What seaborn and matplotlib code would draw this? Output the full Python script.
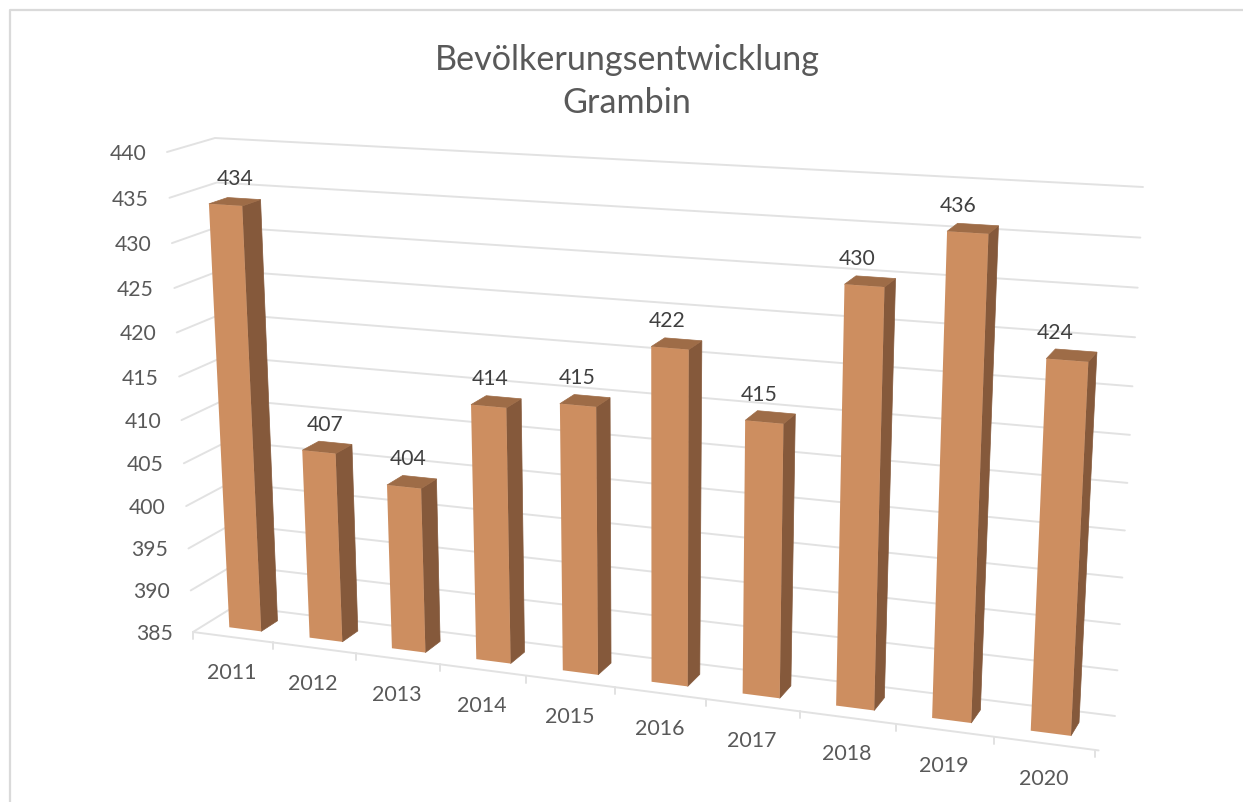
import numpy as np
import pandas as pd
import matplotlib
matplotlib.use("Agg")
import matplotlib.pyplot as plt
import seaborn as sns
from matplotlib.lines import Line2D
from matplotlib.patches import Polygon
from matplotlib.transforms import Affine2D, Transform

# ---------- DATA ----------
years = ["2011", "2012", "2013", "2014", "2015", "2016", "2017", "2018", "2019", "2020"]
population = [434, 407, 404, 414, 415, 422, 415, 430, 436, 424]
value_ticks = [385, 390, 395, 400, 405, 410, 415, 420, 425, 430, 435, 440]
title_lines = ["Bevölkerungsentwicklung", "Grambin"]

# ---------- STYLE ----------
W, H = 1243, 803
FRONT_COLOR = "#CD8E60"
SIDE_COLOR = "#85593B"
TOP_COLOR = "#9E6C47"
GRID_COLOR = "#E2E2E2"
TEXT_COLOR = "#595959"
LABEL_COLOR = "#404040"

sns.set_theme(style="white")
plt.rcParams["font.family"] = ["Lato", "DejaVu Sans"]

# ---------- PERSPECTIVE OF THE 3D BOX ----------
# corners in picture pixels: (x left/right, value low/high)
FRONT_CORNERS = [(193, 633), (1095.5, 751), (167, 153), (1122, 208)]
BACK_CORNERS = [(235, 607), (1115, 717), (215, 139), (1143, 188)]
BAR_Z0, BAR_Z1 = 0.3, 0.7
LABEL_DRIFT = 17  # data labels sit further left of the bar towards the right side


def homography(corners):
    src = [(0, 0), (1, 0), (0, 1), (1, 1)]
    rows, rhs = [], []
    for (u, v), (px, py) in zip(src, corners):
        rows.append([u, v, 1, 0, 0, 0, -u * px, -v * px])
        rows.append([0, 0, 0, u, v, 1, -u * py, -v * py])
        rhs += [px, py]
    return np.append(np.linalg.solve(np.array(rows, float), np.array(rhs, float)), 1).reshape(3, 3)


H_FRONT = homography(FRONT_CORNERS)
H_BACK = homography(BACK_CORNERS)


def project(x, y, z):
    x, y = np.asarray(x, float), np.asarray(y, float)
    u = (x + 0.5) / len(years)
    v = (y - value_ticks[0]) / (value_ticks[-1] - value_ticks[0])
    pts = np.stack([u, v, np.ones_like(u)], axis=-1)
    front = pts @ H_FRONT.T
    back = pts @ H_BACK.T
    front = front[..., :2] / front[..., 2:]
    back = back[..., :2] / back[..., 2:]
    return front * (1 - z) + back * z


class Depth(Transform):
    input_dims = 2
    output_dims = 2

    def __init__(self, z):
        super().__init__()
        self.z = z

    def transform_non_affine(self, values):
        values = np.asarray(values, float)
        return project(values[:, 0], values[:, 1], self.z)


# ---------- FIGURE ----------
fig = plt.figure(figsize=(W / 100, H / 100), dpi=100, facecolor="white")
ax = fig.add_axes([0, 0, 1, 1])
to_fig = Affine2D().scale(1 / W, -1 / H).translate(0, 1) + fig.transFigure

# outer chart frame, only top and left are inside the picture
fig.add_artist(Line2D([10, 10, W], [H, 11, 11], transform=to_fig, color="#DADADA", lw=1.6))

# ---------- BARS ----------
df = pd.DataFrame({"year": years, "population": population})
sns.barplot(data=df, x="year", y="population", color=FRONT_COLOR, saturation=1,
            width=0.4, linewidth=0, ax=ax)
ax.set_axis_off()

base = value_ticks[0]
for i, bar in enumerate(ax.patches):
    x0, x1 = bar.get_x(), bar.get_x() + bar.get_width()
    top = bar.get_height()
    bar.set_y(base)
    bar.set_height(top - base)
    bar.set_transform(Depth(BAR_Z0) + to_fig)
    bar.set_clip_on(False)
    bar.set_zorder(3)

    side = np.vstack([project([x1, x1], [base, top], BAR_Z0),
                      project([x1, x1], [top, base], BAR_Z1)])
    roof = np.vstack([project([x0, x1], [top, top], BAR_Z0),
                      project([x1, x0], [top, top], BAR_Z1)])
    ax.add_patch(Polygon(side, closed=True, facecolor=SIDE_COLOR, edgecolor=SIDE_COLOR,
                         linewidth=0.5, transform=to_fig, clip_on=False, zorder=2))
    ax.add_patch(Polygon(roof, closed=True, facecolor=TOP_COLOR, edgecolor=TOP_COLOR,
                         linewidth=0.5, transform=to_fig, clip_on=False, zorder=2))

    # data label
    lx, ly = project((x0 + x1) / 2, top, 0.5)
    ax.text(lx - LABEL_DRIFT * i / (len(years) - 1), ly - 23.5, f"{top:.0f}",
            transform=to_fig, ha="center", va="center",
            fontsize=15.2, color=LABEL_COLOR, zorder=4)

# ---------- GRID ----------
x_lo, x_hi = -0.5, len(years) - 0.5
for tick in value_ticks:
    line = np.vstack([project(x_lo, tick, 0), project(x_lo, tick, 1), project(x_hi, tick, 1)])
    ax.plot(line[:, 0], line[:, 1], transform=to_fig, color=GRID_COLOR, lw=1.4,
            clip_on=False, zorder=1)
    px, py = project(x_lo, tick, 0)
    ax.text(px - 20.5, py + 1, str(tick), transform=to_fig, ha="right", va="center",
            fontsize=15.2, color=TEXT_COLOR)

# ---------- CATEGORY AXIS ----------
axis_line = project([x_lo, x_hi + 0.03], [base, base], 0)
ax.plot(axis_line[:, 0], axis_line[:, 1], transform=to_fig, color=GRID_COLOR, lw=1.4,
        clip_on=False, zorder=1)
for i in range(len(years) + 1):
    px, py = project(i - 0.5, base, 0)
    ax.plot([px, px], [py, py + 7], transform=to_fig, color=GRID_COLOR, lw=1.4,
            clip_on=False, zorder=1)
for i, year in enumerate(years):
    px, py = project(i, base, 0)
    ax.text(px - 1, py + 35, year, transform=to_fig, ha="center", va="center",
            fontsize=15.4, color=TEXT_COLOR)

# ---------- TITLE ----------
ax.text(627, 60, title_lines[0], transform=to_fig, ha="center", va="center",
        fontsize=24.6, color=TEXT_COLOR)
ax.text(627, 103, title_lines[1], transform=to_fig, ha="center", va="center",
        fontsize=24.6, color=TEXT_COLOR)

fig.savefig("out.png", dpi=100, facecolor="white")
